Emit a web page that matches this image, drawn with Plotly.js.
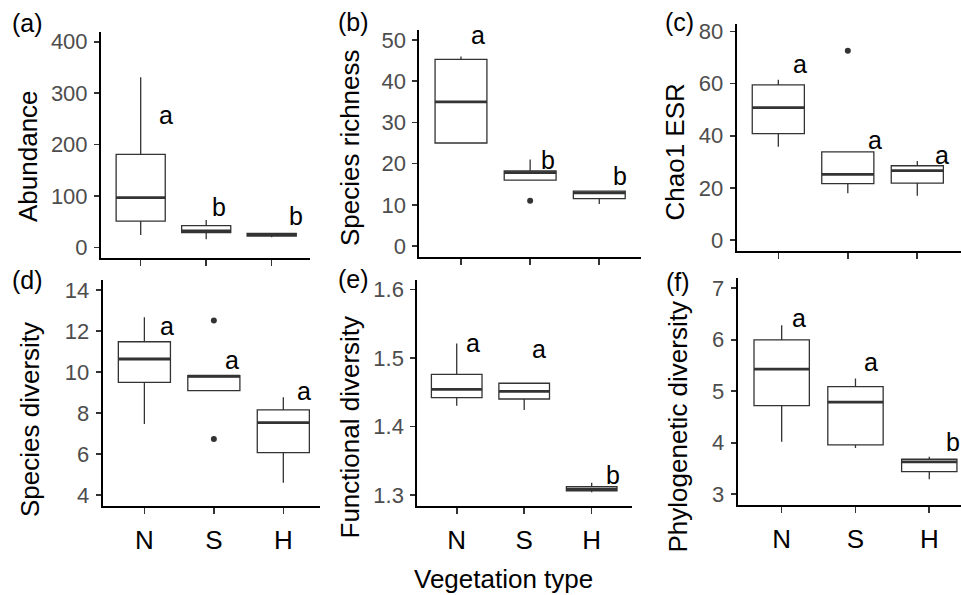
<!DOCTYPE html>
<html><head><meta charset="utf-8">
<script src="https://cdn.plot.ly/plotly-3.0.1.min.js"></script>
<style>html,body{margin:0;padding:0;background:#fff}#chart{width:961px;height:595px}</style>
</head><body><div id="chart"></div>
<script>
const categories = ['N', 'S', 'H'];
// per category (N, S, H): [lower whisker, Q1, median, Q3, upper whisker]
const abundanceStats = [[24, 51, 96.5, 181, 331], [15.6, 28.6, 31.7, 42.2, 53], [19.5, 22, 24.5, 27, 27.5]];
const abundanceOutliers = [[], [], []];
const abundanceLetters = ['a', 'b', 'b'];
const abundanceLetterY = [257, 78, 61];

const richnessStats = [[25, 25, 35, 45.3, 46], [16, 16, 17.8, 18.2, 21], [10.2, 11.5, 12.9, 13.3, 13.3]];
const richnessOutliers = [[], [11], []];
const richnessLetters = ['a', 'b', 'b'];
const richnessLetterY = [51.2, 20.9, 17.0];

const chao1Stats = [[35.8, 40.8, 50.8, 59.5, 61.5], [17.9, 21.6, 25.2, 33.8, 33.8], [17, 21.8, 26.6, 28.5, 30.3]];
const chao1Outliers = [[], [72.6], []];
const chao1Letters = ['a', 'a', 'a'];
const chao1LetterY = [67.5, 38.5, 32.8];

const speciesDivStats = [[7.47, 9.5, 10.64, 11.48, 12.67], [9.1, 9.1, 9.8, 9.83, 9.83], [4.61, 6.08, 7.54, 8.16, 8.77]];
const speciesDivOutliers = [[], [12.52, 6.74], []];
const speciesDivLetters = ['a', 'a', 'a'];
const speciesDivLetterY = [12.23, 10.59, 9.08];

const functionalDivStats = [[1.430, 1.442, 1.454, 1.476, 1.521], [1.424, 1.440, 1.451, 1.463, 1.463], [1.304, 1.306, 1.308, 1.312, 1.318]];
const functionalDivOutliers = [[], [], []];
const functionalDivLetters = ['a', 'a', 'b'];
const functionalDivLetterY = [1.521, 1.513, 1.329];

const phyloDivStats = [[4.02, 4.72, 5.43, 6.0, 6.28], [3.90, 3.96, 4.79, 5.09, 5.25], [3.29, 3.44, 3.63, 3.68, 3.73]];
const phyloDivOutliers = [[], [], []];
const phyloDivLetters = ['a', 'a', 'b'];
const phyloDivLetterY = [6.43, 5.56, 4.02];

const panelTags = ['(a)', '(b)', '(c)', '(d)', '(e)', '(f)'];
const yTitles = ['Abundance', 'Species richness', 'Chao1 ESR', 'Species diversity', 'Functional diversity', 'Phylogenetic diversity'];
const xTitle = 'Vegetation type';

const W = 961, H = 595;
const FONT = '"Liberation Sans", Arial, Helvetica, sans-serif';
const INK = '#333333';

// layout geometry (pixels) per panel
const panels = [
  {stats: abundanceStats, out: abundanceOutliers, letters: abundanceLetters, ly: abundanceLetterY, ldx: [0.38, 0.19, 0.37],
   xd: [101, 310], yd: [32, 258], xr: [-0.606, 2.585], yr: [-20.8, 418.9], dtick: 100, bottom: false, tag: [27, 23], title: [28, 156]},
  {stats: richnessStats, out: richnessOutliers, letters: richnessLetters, ly: richnessLetterY, ldx: [0.25, 0.26, 0.30],
   xd: [419.3, 640.7], yd: [30, 256.5], xr: [-0.603, 2.599], yr: [-2.55, 52.43], dtick: 10, bottom: false, tag: [353, 22], title: [350, 148]},
  {stats: chao1Stats, out: chao1Outliers, letters: chao1Letters, ly: chao1LetterY, ldx: [0.31, 0.39, 0.36],
   xd: [736.7, 961], yd: [24, 250.5], xr: [-0.599, 2.629], yr: [-4.03, 82.9], dtick: 20, bottom: false, tag: [679, 22.5], title: [674, 152.5]},
  {stats: speciesDivStats, out: speciesDivOutliers, letters: speciesDivLetters, ly: speciesDivLetterY, ldx: [0.32, 0.26, 0.30],
   xd: [102.7, 320], yd: [280, 506], xr: [-0.6, 2.528], yr: [3.479, 14.487], dtick: 2, bottom: true, tag: [27, 280], title: [30, 420]},
  {stats: functionalDivStats, out: functionalDivOutliers, letters: functionalDivLetters, ly: functionalDivLetterY, ldx: [0.24, 0.22, 0.32],
   xd: [417.3, 631.7], yd: [280, 506], xr: [-0.584, 2.593], yr: [1.2839, 1.6136], dtick: 0.1, bottom: true, tag: [353, 279], title: [349.5, 427]},
  {stats: phyloDivStats, out: phyloDivOutliers, letters: phyloDivLetters, ly: phyloDivLetterY, ldx: [0.24, 0.21, 0.32],
   xd: [737.7, 961], yd: [278.3, 505], xr: [-0.596, 2.43], yr: [2.792, 7.194], dtick: 1, bottom: true, tag: [677.5, 282], title: [677.5, 427]}
];

const BOXW = 0.75;
const traces = [];
const annotations = [];
const layout = {
  width: W, height: H, margin: {l: 0, r: 0, t: 0, b: 0, pad: 0},
  paper_bgcolor: 'white', plot_bgcolor: 'white', showlegend: false,
  font: {family: FONT, color: 'black'}
};

panels.forEach((p, k) => {
  const sfx = k === 0 ? '' : String(k + 1);
  const xa = 'x' + sfx, ya = 'y' + sfx;
  const pos = categories.map((c, i) => i);
  traces.push({
    type: 'box', xaxis: xa, yaxis: ya, x: pos,
    lowerfence: p.stats.map(s => s[0]), q1: p.stats.map(s => s[1]), median: p.stats.map(s => s[2]),
    q3: p.stats.map(s => s[3]), upperfence: p.stats.map(s => s[4]),
    width: BOXW, whiskerwidth: 0, boxpoints: false,
    line: {color: INK, width: 1.3}, fillcolor: 'white', hoverinfo: 'skip'
  });
  // thicker median bar
  const mx = [], my = [];
  p.stats.forEach((s, i) => { mx.push(i - BOXW / 2, i + BOXW / 2, null); my.push(s[2], s[2], null); });
  traces.push({type: 'scatter', mode: 'lines', xaxis: xa, yaxis: ya, x: mx, y: my,
    line: {color: INK, width: 2.8}, hoverinfo: 'skip'});
  // outliers
  const ox = [], oy = [];
  p.out.forEach((arr, i) => arr.forEach(v => { ox.push(i); oy.push(v); }));
  if (ox.length) traces.push({type: 'scatter', mode: 'markers', xaxis: xa, yaxis: ya, x: ox, y: oy,
    marker: {color: INK, size: 6}, hoverinfo: 'skip'});

  layout['xaxis' + sfx] = {
    domain: [p.xd[0] / W, p.xd[1] / W], range: p.xr, anchor: ya,
    tickmode: 'array', tickvals: pos, ticktext: categories, showticklabels: p.bottom,
    tickfont: {family: FONT, size: 26, color: 'black'}, ticklabelstandoff: 4,
    ticks: 'outside', ticklen: 6, tickwidth: 1.6, tickcolor: INK,
    showline: true, linecolor: 'black', linewidth: 2, showgrid: false, zeroline: false, fixedrange: true
  };
  layout['yaxis' + sfx] = {
    domain: [1 - p.yd[1] / H, 1 - p.yd[0] / H], range: p.yr, anchor: xa,
    tick0: 0, dtick: p.dtick,
    tickfont: {family: FONT, size: 22, color: '#4d4d4d'},
    ticks: 'outside', ticklen: 5, tickwidth: 1.6, tickcolor: INK, ticklabelstandoff: 2,
    showline: true, linecolor: 'black', linewidth: 2, showgrid: false, zeroline: false, fixedrange: true
  };

  p.letters.forEach((t, i) => annotations.push({
    xref: xa, yref: ya, x: i + p.ldx[i], y: p.ly[i], text: t, showarrow: false,
    xanchor: 'center', yanchor: 'middle', font: {family: FONT, size: 25, color: 'black'}
  }));
  annotations.push({xref: 'paper', yref: 'paper', x: p.tag[0] / W, y: 1 - p.tag[1] / H, text: panelTags[k],
    showarrow: false, xanchor: 'center', yanchor: 'middle', font: {family: FONT, size: 25, color: 'black'}});
  annotations.push({xref: 'paper', yref: 'paper', x: p.title[0] / W, y: 1 - p.title[1] / H, text: yTitles[k],
    textangle: -90, showarrow: false, xanchor: 'center', yanchor: 'middle', font: {family: FONT, size: 26, color: 'black'}});
});

annotations.push({xref: 'paper', yref: 'paper', x: 503.8 / W, y: 1 - 579 / H, text: xTitle,
  showarrow: false, xanchor: 'center', yanchor: 'middle', font: {family: FONT, size: 26, color: 'black'}});
layout.annotations = annotations;

Plotly.newPlot('chart', traces, layout, {staticPlot: true, displayModeBar: false});
</script>
</body></html>
